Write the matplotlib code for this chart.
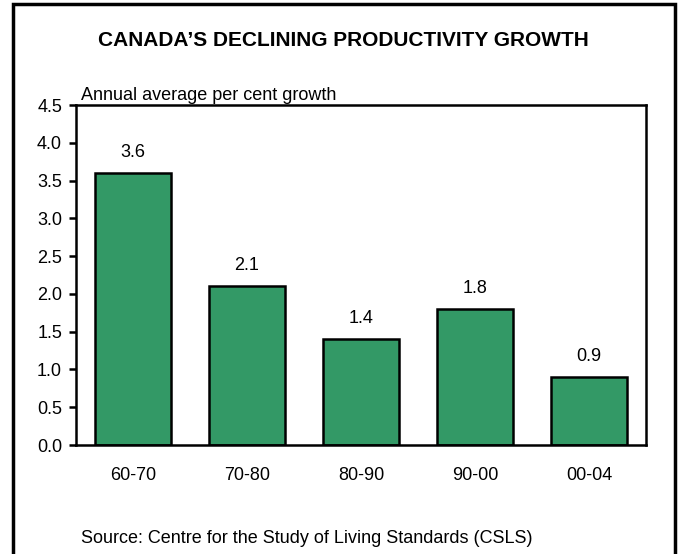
import matplotlib.pyplot as plt
import matplotlib.patches as patches
import numpy as np

plt.rcParams['font.family'] = ['Liberation Sans', 'DejaVu Sans']

# decades and average annual productivity growth
periods = ["60-70", "70-80", "80-90", "90-00", "00-04"]
growth = [3.6, 2.1, 1.4, 1.8, 0.9]
yticks = [0.0, 0.5, 1.0, 1.5, 2.0, 2.5, 3.0, 3.5, 4.0, 4.5]

W, H = 678, 554
fig = plt.figure(figsize=(W / 100, H / 100), dpi=100)

# outer frame (bottom edge runs off the page)
fig.patches.append(patches.Rectangle((12.5 / W, -0.05), 662.5 / W, 1.05 - 3.5 / H,
                                     transform=fig.transFigure, fill=False,
                                     edgecolor='black', linewidth=2.5))

ax = fig.add_axes([76 / W, 1 - 445 / H, 570 / W, 340 / H])
x = np.arange(len(periods))
bars = ax.bar(x, growth, width=0.665, color='#339966', edgecolor='black', linewidth=1.8)

for xi, v in zip(x, growth):
    ax.text(xi, v + 0.21, f"{v:.1f}", ha='center', va='baseline', fontsize=13)

ax.set_xlim(-0.5, len(periods) - 0.5)
ax.set_ylim(0, 4.5)
ax.set_yticks(yticks)
ax.set_yticklabels([f"{t:.1f}" for t in yticks], fontsize=13)
ax.set_xticks(x)
ax.set_xticklabels(periods, fontsize=13)
ax.tick_params(axis='x', length=0, pad=16)
ax.tick_params(axis='y', length=5, width=1.8, pad=5, direction='out')
for s in ax.spines.values():
    s.set_linewidth(1.8)

fig.text(343 / W, 1 - 40 / H, "CANADA\u2019S DECLINING PRODUCTIVITY GROWTH",
         ha='center', va='center', fontsize=15, fontweight='bold')
fig.text(81 / W, 1 - 100 / H, "Annual average per cent growth",
         ha='left', va='baseline', fontsize=13)
fig.text(81 / W, 1 - 543 / H, "Source: Centre for the Study of Living Standards (CSLS)",
         ha='left', va='baseline', fontsize=13)

fig.savefig("out.png", dpi=100)
